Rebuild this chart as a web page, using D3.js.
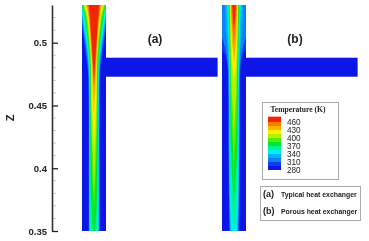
<!DOCTYPE html>
<html>
<head>
<meta charset="utf-8">
<script src="https://cdn.jsdelivr.net/npm/d3@7"></script>
<style>
  html, body { margin: 0; padding: 0; background: #fff; overflow: hidden; }
  svg { display: block; font-family: "Liberation Sans", Arial, sans-serif; }
  text { fill: #222; }
</style>
</head>
<body>
<svg id="chart" width="369" height="241"></svg>
<script>
// temperature levels (K) and the colour each one is filled with
const levels = [280, 295, 310, 325, 340, 355, 370, 385, 400, 415, 430, 445, 460];
const levelColors = ['#0a14e6', '#0a3cf0', '#0a82f5', '#00b4ff', '#00f0f0', '#00f596', '#00e632', '#5aeb00', '#b4f000', '#fff000', '#ffb400', '#ff7800', '#f02800'];
const legendTicks = [460, 430, 400, 370, 340, 310, 280];

const zTicks = [0.35, 0.4, 0.45, 0.5];
const zMinor = [0.36, 0.37, 0.38, 0.39, 0.41, 0.42, 0.43, 0.44, 0.46, 0.47, 0.48, 0.49, 0.51, 0.52];
const zStations = [0.53, 0.52, 0.51, 0.5, 0.49, 0.48, 0.47, 0.46, 0.45, 0.43, 0.41, 0.39, 0.37, 0.35];

// half width of each isotherm at each z station, as a fraction of channel half width
const isothermsA = [
  [1.3, 1.1, 0.98, 0.85, 0.7, 0.56, 0.48, 0.46, 0.45, 0.44, 0.44, 0.44, 0.44, 0.44],
  [1.25, 1.05, 0.92, 0.76, 0.62, 0.5, 0.45, 0.44, 0.43, 0.43, 0.43, 0.43, 0.43, 0.43],
  [1.2, 1, 0.85, 0.68, 0.55, 0.46, 0.43, 0.42, 0.41, 0.41, 0.41, 0.41, 0.41, 0.41],
  [1.15, 0.94, 0.78, 0.62, 0.5, 0.42, 0.39, 0.38, 0.38, 0.38, 0.38, 0.38, 0.38, 0.38],
  [1.05, 0.85, 0.7, 0.55, 0.45, 0.38, 0.35, 0.34, 0.34, 0.34, 0.34, 0.34, 0.33, 0.3],
  [0.98, 0.76, 0.62, 0.48, 0.4, 0.33, 0.31, 0.3, 0.3, 0.3, 0.3, 0.28, 0.22, 0.08],
  [0.92, 0.68, 0.55, 0.42, 0.35, 0.29, 0.27, 0.26, 0.26, 0.24, 0.2, 0.12, 0.02, 0],
  [0.86, 0.6, 0.48, 0.37, 0.3, 0.25, 0.24, 0.23, 0.22, 0.18, 0.1, 0.03, 0, 0],
  [0.78, 0.53, 0.42, 0.33, 0.26, 0.22, 0.21, 0.2, 0.18, 0.06, 0, 0, 0, 0],
  [0.68, 0.46, 0.37, 0.29, 0.22, 0.17, 0.13, 0.09, 0.03, 0, 0, 0, 0, 0],
  [0.56, 0.4, 0.32, 0.25, 0.18, 0.12, 0.06, 0, 0, 0, 0, 0, 0, 0],
  [0.44, 0.34, 0.27, 0.2, 0.13, 0.07, 0.01, 0, 0, 0, 0, 0, 0, 0]
];
const isothermsB = [
  [1.3, 1.3, 1.3, 1.3, 0.75, 0.55, 0.5, 0.48, 0.47, 0.47, 0.46, 0.45, 0.43, 0.4],
  [1.3, 1.3, 1.2, 0.85, 0.62, 0.5, 0.47, 0.46, 0.45, 0.45, 0.44, 0.43, 0.41, 0.36],
  [0.75, 0.72, 0.68, 0.58, 0.5, 0.46, 0.44, 0.43, 0.42, 0.42, 0.41, 0.4, 0.37, 0.32],
  [0.58, 0.53, 0.5, 0.47, 0.44, 0.42, 0.4, 0.39, 0.38, 0.38, 0.37, 0.36, 0.32, 0.25],
  [0.5, 0.46, 0.44, 0.41, 0.39, 0.38, 0.36, 0.35, 0.34, 0.33, 0.32, 0.28, 0.18, 0],
  [0.42, 0.4, 0.38, 0.36, 0.34, 0.33, 0.32, 0.31, 0.3, 0.28, 0.24, 0.12, 0, 0],
  [0.38, 0.36, 0.34, 0.32, 0.3, 0.28, 0.27, 0.26, 0.24, 0.17, 0.05, 0, 0, 0],
  [0.34, 0.32, 0.31, 0.29, 0.27, 0.25, 0.22, 0.18, 0.12, 0.02, 0, 0, 0, 0],
  [0.31, 0.29, 0.27, 0.25, 0.21, 0.12, 0.01, 0, 0, 0, 0, 0, 0, 0],
  [0.27, 0.24, 0.21, 0.16, 0.05, 0, 0, 0, 0, 0, 0, 0, 0, 0],
  [0.22, 0.19, 0.12, 0.03, 0, 0, 0, 0, 0, 0, 0, 0, 0, 0],
  [0.15, 0.09, 0.01, 0, 0, 0, 0, 0, 0, 0, 0, 0, 0, 0]
];

const branchZ = [0.4729, 0.488];
const branchEnd = 10.3;
const legendNotes = [['(a)', 'Typical heat exchanger'], ['(b)', 'Porous heat exchanger']];

const svg = d3.select('#chart');
const color = d3.scaleOrdinal().domain(levels).range(levelColors);
const zScale = d3.scaleLinear().domain([0.35, 0.53]).range([231, 5]);

const defs = svg.append('defs');
defs.append('filter').attr('id', 'soft')
  .append('feGaussianBlur').attr('stdDeviation', 0.7);
defs.append('filter').attr('id', 'softText')
  .append('feGaussianBlur').attr('stdDeviation', 0.3);

// one channel with its side branch and the filled contours
function drawPanel(name, xRange, isotherms, label, labelX) {
  const x = d3.scaleLinear().domain([-1, 1]).range(xRange);

  defs.append('clipPath').attr('id', 'clip-' + name)
    .append('rect')
    .attr('x', x(-1)).attr('y', zScale(0.53))
    .attr('width', x(1) - x(-1)).attr('height', zScale(0.35) - zScale(0.53));

  const g = svg.append('g').attr('filter', 'url(#soft)');

  g.append('rect')
    .attr('x', x(1) - 1).attr('y', zScale(branchZ[1]))
    .attr('width', x(branchEnd) - x(1) + 1)
    .attr('height', zScale(branchZ[0]) - zScale(branchZ[1]))
    .attr('fill', color(280));

  const field = g.append('g').attr('clip-path', `url(#clip-${name})`);
  field.append('rect')
    .attr('x', x(-1)).attr('y', zScale(0.53))
    .attr('width', x(1) - x(-1)).attr('height', zScale(0.35) - zScale(0.53))
    .attr('fill', color(280));

  const area = d3.area()
    .y((d, i) => zScale(zStations[i]))
    .x0(d => x(-d))
    .x1(d => x(d))
    .curve(d3.curveMonotoneY);

  field.selectAll('path')
    .data(isotherms)
    .enter()
    .append('path')
    .attr('d', d => area(d))
    .attr('fill', (d, i) => color(levels[i + 1]));

  svg.append('text')
    .attr('x', labelX).attr('y', 43)
    .attr('text-anchor', 'middle')
    .attr('font-size', 12).attr('font-weight', 'bold')
    .attr('filter', 'url(#softText)')
    .text(label);
}

drawPanel('a', [82, 106], isothermsA, '(a)', 155);
drawPanel('b', [222, 246], isothermsB, '(b)', 295);

// Z axis, ticks point into the plot
const axis = svg.append('g')
  .attr('transform', 'translate(52,0)')
  .attr('filter', 'url(#softText)');

axis.selectAll('.minor')
  .data(zMinor)
  .enter()
  .append('line')
  .attr('class', 'minor')
  .attr('x1', 0).attr('x2', 4)
  .attr('y1', d => zScale(d)).attr('y2', d => zScale(d))
  .attr('stroke', '#bbb').attr('stroke-width', 0.8);

axis.call(d3.axisRight(zScale)
  .tickValues(zTicks)
  .tickSize(6)
  .tickSizeOuter(0)
  .tickFormat(d3.format('~g')));
axis.select('.domain').attr('stroke', '#333').attr('stroke-width', 1.6);
axis.selectAll('.tick line').attr('stroke', '#222').attr('stroke-width', 1.3);
axis.selectAll('.tick text')
  .attr('x', -5)
  .attr('text-anchor', 'end')
  .attr('font-size', 9.5)
  .attr('font-weight', 'bold')
  .attr('font-family', '"Liberation Sans", Arial, sans-serif')
  .attr('fill', '#333');

svg.append('text')
  .attr('transform', 'translate(14,118) rotate(-90)')
  .attr('text-anchor', 'middle')
  .attr('font-size', 11).attr('font-weight', 'bold')
  .attr('filter', 'url(#softText)')
  .text('Z');

// temperature legend
const legend = svg.append('g').attr('filter', 'url(#softText)');
legend.append('rect')
  .attr('x', 262.5).attr('y', 102.5).attr('width', 76).attr('height', 77)
  .attr('fill', '#fff').attr('stroke', '#aaa').attr('stroke-width', 1);
legend.append('text')
  .attr('x', 298).attr('y', 112)
  .attr('text-anchor', 'middle')
  .attr('font-size', 7.6).attr('font-weight', 'bold')
  .attr('font-family', '"Liberation Serif", serif')
  .text('Temperature (K)');

const barScale = d3.scaleLinear().domain([280, 460]).range([170, 122]);
const barTop = 480;
legend.selectAll('.band')
  .data(levels)
  .enter()
  .append('rect')
  .attr('class', 'band')
  .attr('x', 268).attr('width', 13)
  .attr('y', d => barScale(d === 460 ? barTop : d + 15))
  .attr('height', d => barScale(d) - barScale(d === 460 ? barTop : d + 15))
  .attr('fill', d => color(d));
legend.selectAll('.tick-label')
  .data(legendTicks)
  .enter()
  .append('text')
  .attr('class', 'tick-label')
  .attr('x', 287).attr('y', d => barScale(d) + 3)
  .attr('font-size', 8.2)
  .text(d => d);

// panel key
const key = svg.append('g').attr('filter', 'url(#softText)');
key.append('rect')
  .attr('x', 260.5).attr('y', 186.5).attr('width', 100).attr('height', 34)
  .attr('fill', '#fff').attr('stroke', '#aaa').attr('stroke-width', 1);
const keyRows = key.selectAll('.row')
  .data(legendNotes)
  .enter()
  .append('g')
  .attr('class', 'row')
  .attr('transform', (d, i) => `translate(263,${197 + i * 17})`);
keyRows.append('text')
  .attr('font-size', 9).attr('font-weight', 'bold')
  .text(d => d[0]);
keyRows.append('text')
  .attr('x', 18)
  .attr('font-size', 6.9).attr('font-weight', 'bold')
  .text(d => d[1]);
</script>
</body>
</html>
